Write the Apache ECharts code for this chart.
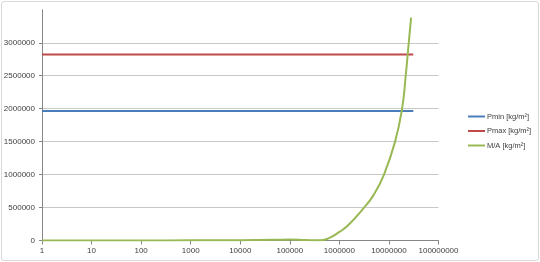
<!DOCTYPE html>
<html><head><meta charset="utf-8">
<script src="https://cdn.jsdelivr.net/npm/echarts@6/dist/echarts.min.js"></script>
<style>
html,body{margin:0;padding:0;background:#fff;}
#wrap{position:absolute;left:1px;top:1px;width:536px;height:258px;border:1px solid #d9d9d9;border-radius:3px;}
#c{position:absolute;left:0;top:0;width:540px;height:262px;}
</style></head>
<body><div id="wrap"></div><div id="c"></div>
<script>
const seriesNames = ['Pmin [kg/m²]', 'Pmax [kg/m²]', 'M/A [kg/m²]'];
const pLimitX = [1, 31000000];
const pminValues = [1965000, 1965000];
const pmaxValues = [2820000, 2820000];
const maX = [1, 10, 100, 1000, 10000, 50000, 100000, 200000, 400000, 600000, 1000000, 1500000, 3000000, 5000000, 7940000, 13300000, 18400000, 21800000, 25100000, 28000000];
const maValues = [500, 1000, 1500, 2500, 5000, 10000, 15000, 8000, 2000, 32000, 130000, 230000, 480000, 700000, 1000000, 1500000, 2000000, 2500000, 3000000, 3380000];
const xTickLabels = ['1','10','100','1000','10000','100000','1000000','10000000','100000000'];
const yTickLabels = ['0','500000','1000000','1500000','2000000','2500000','3000000'];

const zip = (xs, ys) => xs.map((x, i) => [x, ys[i]]);
const chart = echarts.init(document.getElementById('c'), null, {renderer: 'canvas'});
const font = 'Liberation Sans';
chart.setOption({
  animation: false,
  color: ['#4a7ebb', '#be4b48', '#98b954'],
  grid: {left: 42, right: 101.5, top: 9.8, bottom: 21.5, containLabel: false},
  legend: {
    orient: 'vertical', left: 468, top: 111.5, padding: 0, itemWidth: 17, itemHeight: 2, itemGap: 4.5,
    icon: 'rect',
    textStyle: {fontFamily: font, fontSize: 7.5, color: '#404040', lineHeight: 10, padding: [0, 0, 0, -3]},
    data: seriesNames
  },
  xAxis: {
    type: 'log', logBase: 10, min: 1, max: 100000000,
    axisLine: {lineStyle: {color: '#868686', width: 1}},
    axisTick: {show: true, length: 4, inside: false, lineStyle: {color: '#868686'}},
    splitLine: {show: false},
    minorTick: {show: false},
    axisLabel: {fontFamily: font, fontSize: 8, color: '#404040', margin: 6,
      formatter: v => { const i = Math.round(Math.log10(v)); return xTickLabels[i] !== undefined ? xTickLabels[i] : ''; }}
  },
  yAxis: {
    type: 'value', min: 0, max: 3500000, interval: 500000,
    axisLine: {show: true, lineStyle: {color: '#868686', width: 1}},
    axisTick: {show: true, length: 3, lineStyle: {color: '#868686'}},
    splitLine: {show: true, showMaxLine: false, showMinLine: false, lineStyle: {color: '#c8c8c8', width: 1}},
    axisLabel: {fontFamily: font, fontSize: 8, color: '#404040', margin: 7, showMaxLabel: false,
      formatter: v => { const i = Math.round(v / 500000); return yTickLabels[i] !== undefined ? yTickLabels[i] : ''; }}
  },
  series: [
    {name: seriesNames[0], type: 'line', showSymbol: false, data: zip(pLimitX, pminValues), lineStyle: {width: 2}},
    {name: seriesNames[1], type: 'line', showSymbol: false, data: zip(pLimitX, pmaxValues), lineStyle: {width: 2}},
    {name: seriesNames[2], type: 'line', showSymbol: false, smooth: 0.5, data: zip(maX, maValues), lineStyle: {width: 2}}
  ]
});
</script></body></html>
